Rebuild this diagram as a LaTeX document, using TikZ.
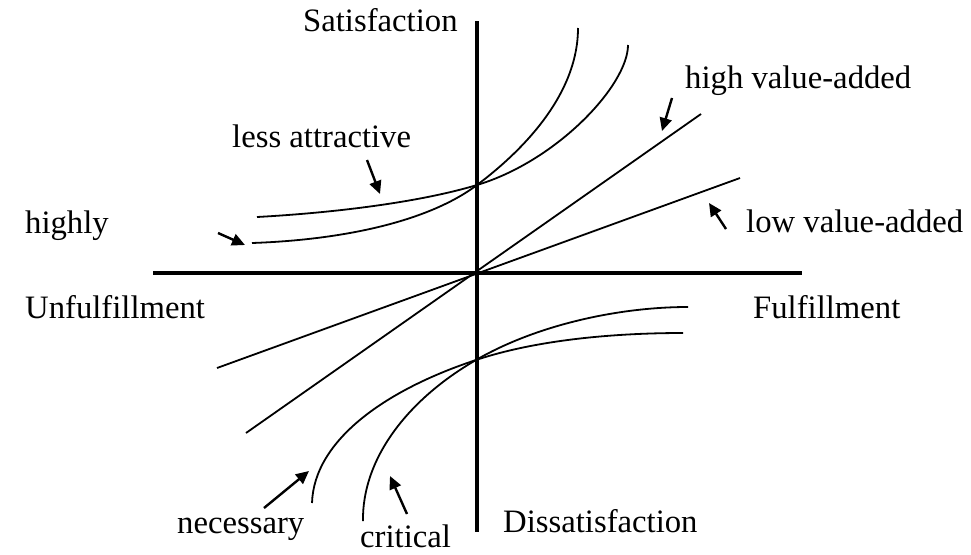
\documentclass[tikz,border=0pt]{standalone}
\usepackage{fontspec}
\setmainfont{Liberation Serif}
\usetikzlibrary{arrows.meta}
\begin{document}
\begin{tikzpicture}[x=1pt,y=-1pt,
  axis/.style={line width=4pt},
  thinline/.style={line width=1.8pt},
  curve/.style={line width=1.8pt},
  pointer/.style={line width=2.4pt,-{Triangle[length=13pt,width=12pt]}},
  lbl/.style={anchor=base west, inner sep=0pt, font=\fontsize{32.7}{39}\selectfont}]
\useasboundingbox (0,0) rectangle (971,554);

% axes
\coordinate (xl) at (153,273);
\coordinate (xr) at (802,273);
\coordinate (yt) at (477,21);
\coordinate (yb) at (477,532);
\draw[axis] (xl) -- (xr);
\draw[axis] (yt) -- (yb);

% straight lines
\coordinate (hva1) at (246,433);
\coordinate (hva2) at (701,114);
\coordinate (lva1) at (217,368);
\coordinate (lva2) at (740,178);
\draw[thinline] (hva1) -- (hva2);
\draw[thinline] (lva1) -- (lva2);

% upper curves
\coordinate (ux) at (477,185);
\draw[curve] (252,243) .. controls (340,240) and (427,222.5) .. (ux)
             .. controls (517,155) and (578,98) .. (578,28);
\draw[curve] (257,217) .. controls (330,213) and (417,203) .. (ux)
             .. controls (557,161) and (628,85) .. (628,45);

% lower curves
\coordinate (lx) at (476,360);
\draw[curve] (688,307) .. controls (618,307) and (536,325.2) .. (lx)
             .. controls (406,400.6) and (362,460) .. (363,521);
\draw[curve] (683,333) .. controls (613,333) and (536,340) .. (lx)
             .. controls (386,389.7) and (314,440) .. (312,503);

% labels
\node[lbl] (sat) at (303,31) {Satisfaction};
\node[lbl] (dis) at (503,532) {Dissatisfaction};
\node[lbl] (unf) at (25,318) {Unfulfillment};
\node[lbl] (ful) at (753,318) {Fulfillment};
\node[lbl] (less) at (232,147) {less attractive};
\node[lbl] (hig) at (25,233) {highly};
\node[lbl] (hva) at (685,88) {high value-added};
\node[lbl] (lva) at (746,232) {low value-added};
\node[lbl] (nec) at (177,533) {necessary};
\node[lbl] (cri) at (360,547) {critical};

% pointer arrows
\coordinate (a1s) at (367,160); \coordinate (a1e) at (380,194);
\coordinate (a2s) at (218,233); \coordinate (a2e) at (245,245);
\coordinate (a3s) at (672,98);  \coordinate (a3e) at (662,131);
\coordinate (a4s) at (726,229); \coordinate (a4e) at (709,203);
\coordinate (a5s) at (264,508); \coordinate (a5e) at (309,471);
\coordinate (a6s) at (407,514); \coordinate (a6e) at (390,476);
\draw[pointer] (a1s) -- (a1e);
\draw[pointer] (a2s) -- (a2e);
\draw[pointer] (a3s) -- (a3e);
\draw[pointer] (a4s) -- (a4e);
\draw[pointer] (a5s) -- (a5e);
\draw[pointer] (a6s) -- (a6e);
\end{tikzpicture}
\end{document}
